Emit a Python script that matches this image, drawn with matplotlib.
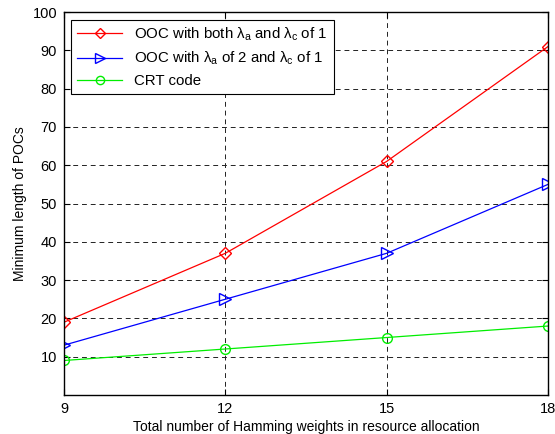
import matplotlib
matplotlib.use("Agg")
import matplotlib.pyplot as plt

plt.rcParams["font.family"] = ["Liberation Sans", "DejaVu Sans"]
plt.rcParams["mathtext.fontset"] = "custom"
plt.rcParams["mathtext.rm"] = "Liberation Sans"
plt.rcParams["mathtext.it"] = "Liberation Sans"

weights = [9, 12, 15, 18]
ooc_both = [19, 37, 61, 91]
ooc_a2 = [13, 25, 37, 55]
crt_code = [9, 12, 15, 18]

fig = plt.figure(figsize=(5.55, 4.34), dpi=100)
ax = fig.add_axes([0.1153, 0.09, 0.872, 0.882])

ax.plot(weights, ooc_both, color="red", marker="D", markersize=6,
        markerfacecolor="none", linewidth=0.9,
        label=r"OOC with both $\lambda_\mathrm{a}$ and $\lambda_\mathrm{c}$ of 1")
ax.plot(weights, ooc_a2, color="blue", marker=">", markersize=8,
        markerfacecolor="none", linewidth=0.9,
        label=r"OOC with $\lambda_\mathrm{a}$ of 2 and $\lambda_\mathrm{c}$ of 1")
ax.plot(weights, crt_code, color="#00ee00", marker="o", markersize=7,
        markerfacecolor="none", linewidth=0.9,
        label="CRT code")

ax.set_xlim(9, 18)
ax.set_ylim(0, 100)
ax.set_xticks(weights)
ax.set_yticks(range(10, 101, 10))
ax.tick_params(direction="in", labelsize=10.5, length=4, top=True, right=True,
               pad=5)

ax.grid(True, color="#222222", linestyle=(0, (5, 4)), linewidth=0.7)

ax.set_xlabel("Total number of Hamming weights in resource allocation",
              fontsize=10, labelpad=3)
ax.set_ylabel("Minimum length of POCs", fontsize=10)

for s in ax.spines.values():
    s.set_linewidth(1.0)

leg = ax.legend(loc="upper left", fontsize=10.8, fancybox=False, framealpha=1,
                edgecolor="black", borderaxespad=0.5, handlelength=3.0,
                labelspacing=0.45, markerscale=0.85)
leg.get_frame().set_linewidth(0.8)

fig.savefig("out.png", dpi=100)
